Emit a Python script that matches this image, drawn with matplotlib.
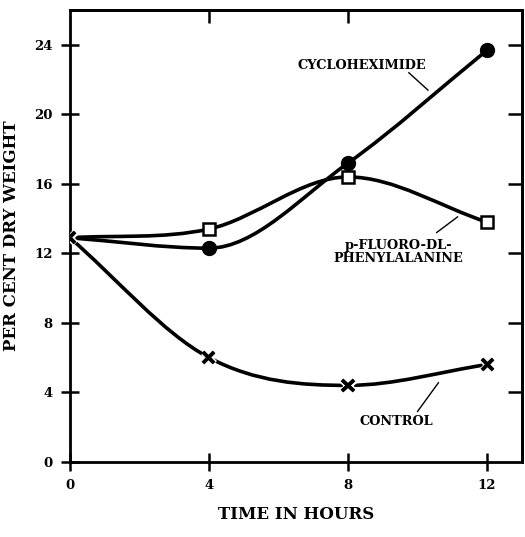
import matplotlib
matplotlib.use("Agg")
import matplotlib.pyplot as plt
import matplotlib.patheffects as pe
from matplotlib.path import Path
from matplotlib.patches import PathPatch

# -----------------------------
# data
# -----------------------------
hours = [0, 4, 8, 12]
control = [12.9, 6.0, 4.4, 5.6]
cycloheximide = [12.9, 12.3, 17.2, 23.7]
fluoro_phe = [12.9, 13.4, 16.4, 13.8]

xticks = [0, 4, 8, 12]
yticks = [0, 4, 8, 12, 16, 20, 24]

plt.rcParams["font.family"] = ["DejaVu Serif"]
plt.rcParams["font.weight"] = "bold"
plt.rcParams["axes.labelweight"] = "bold"


def smooth_path(xs, ys):
    # cubic hermite through the points (flat at turning points) as bezier path
    n = len(xs)
    d = [(ys[i + 1] - ys[i]) / (xs[i + 1] - xs[i]) for i in range(n - 1)]
    slopes = [d[0]]
    for i in range(1, n - 1):
        if d[i - 1] * d[i] <= 0:
            slopes.append(0.0)
        else:
            slopes.append((d[i - 1] + d[i]) / 2)
    slopes.append(d[-1])
    verts = [(xs[0], ys[0])]
    codes = [Path.MOVETO]
    for i in range(n - 1):
        h = xs[i + 1] - xs[i]
        verts += [(xs[i] + h / 3, ys[i] + slopes[i] * h / 3),
                  (xs[i + 1] - h / 3, ys[i + 1] - slopes[i + 1] * h / 3),
                  (xs[i + 1], ys[i + 1])]
        codes += [Path.CURVE4] * 3
    return Path(verts, codes)


fig = plt.figure(figsize=(5.25, 5.37), dpi=100)
ax = fig.add_axes([0.133, 0.14, 0.861, 0.841])

for ys in [control, cycloheximide, fluoro_phe]:
    ax.add_patch(PathPatch(smooth_path(hours, ys), fill=False, lw=2.6,
                           ec="black", capstyle="round", zorder=2))

halo = [pe.withStroke(linewidth=5, foreground="white"), pe.Normal()]
ax.plot(hours, control, ls="none", marker="x", ms=8, mew=2.6, color="black",
        path_effects=halo, zorder=4)
ax.plot(hours[1:], cycloheximide[1:], ls="none", marker="o", ms=10,
        color="black", zorder=3)
ax.plot(hours[1:], fluoro_phe[1:], ls="none", marker="s", ms=9, mfc="white",
        mec="black", mew=1.8, zorder=3)

# labels with leader lines
ax.text(8.4, 22.8, "CYCLOHEXIMIDE", ha="center", va="center", fontsize=9.3)
ax.plot([9.75, 10.3], [22.4, 21.4], color="black", lw=1)
ax.text(9.45, 12.1, "p-FLUORO-DL-\nPHENYLALANINE", ha="center", va="center",
        fontsize=9.3, linespacing=1.0)
ax.plot([10.55, 11.15], [13.2, 14.1], color="black", lw=1)
ax.text(9.4, 2.3, "CONTROL", ha="center", va="center", fontsize=9.3)
ax.plot([10.0, 10.6], [2.9, 4.55], color="black", lw=1)

ax.set_xlim(0, 13)
ax.set_ylim(0, 26)
ax.set_xticks(xticks)
ax.set_yticks(yticks)
ax.tick_params(direction="inout", length=13, width=1.8, labelsize=9.5, pad=6)

for s in ax.spines.values():
    s.set_linewidth(2)

top = ax.secondary_xaxis("top")
top.set_xticks([4, 8])
top.tick_params(direction="in", length=9, width=1.8, labeltop=False)
top.spines["top"].set_linewidth(2)

right = ax.secondary_yaxis("right")
right.set_yticks(yticks[1:])
right.tick_params(direction="in", length=10, width=1.8, labelright=False)
right.spines["right"].set_linewidth(2)

ax.set_xlabel("TIME IN HOURS", fontsize=12, labelpad=10)
ax.set_ylabel("PER CENT DRY WEIGHT", fontsize=12, labelpad=10)

fig.savefig("out.png", dpi=100)
